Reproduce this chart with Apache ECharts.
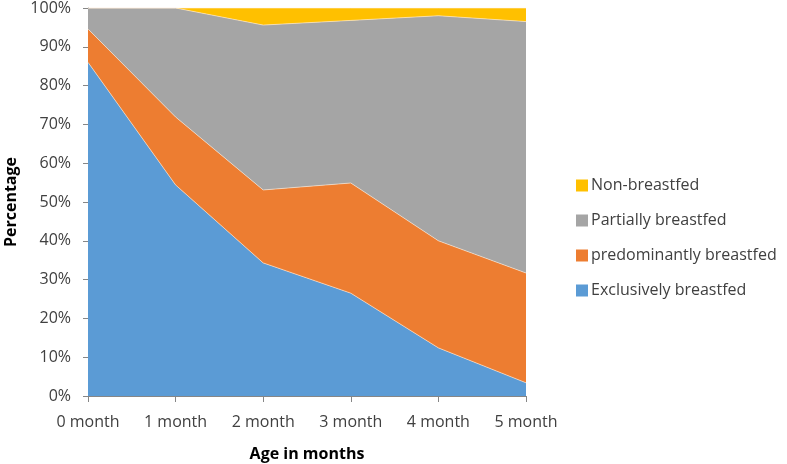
<!DOCTYPE html>
<html>
<head>
<meta charset="utf-8">
<script src="https://cdn.jsdelivr.net/npm/echarts@6/dist/echarts.min.js"></script>
<style>html,body{margin:0;padding:0;background:#fff}#c{width:787px;height:464px}</style>
</head>
<body>
<div id="c"></div>
<script>
const categories = ['0 month', '1 month', '2 month', '3 month', '4 month', '5 month'];
const exclusively = [86, 54.4, 34.3, 26.5, 12.4, 3.4];
const predominantly = [8.6, 17.5, 18.8, 28.4, 27.6, 28.3];
const partially = [5.4, 28.1, 42.5, 41.9, 58, 64.8];
const nonBreastfed = [0, 0, 4.4, 3.2, 2, 3.5];
const seriesNames = ['Exclusively breastfed', 'predominantly breastfed', 'Partially breastfed', 'Non-breastfed'];
const colors = ['#5B9BD5', '#ED7D31', '#A5A5A5', '#FFC000'];
const font = '"Open Sans", Lato, sans-serif';

const chart = echarts.init(document.getElementById('c'));
const dataSets = [exclusively, predominantly, partially, nonBreastfed];
chart.setOption({
  animation: false,
  grid: {left: 88, right: 261, top: 8, bottom: 68, outerBoundsMode: 'none'},
  legend: {
    orient: 'vertical', left: 571, top: 170,
    data: ['Non-breastfed', 'Partially breastfed', 'predominantly breastfed', 'Exclusively breastfed'],
    itemWidth: 12, itemHeight: 12, itemGap: 14,
    icon: 'rect',
    textStyle: {fontFamily: font, fontSize: 16, color: '#404040', lineHeight: 21, padding: [0,0,0,-2]}
  },
  xAxis: {
    type: 'category', data: categories, boundaryGap: false,
    name: 'Age in months', nameLocation: 'middle', nameGap: 50,
    nameTextStyle: {fontFamily: font, fontSize: 16, fontWeight: 'bold', color: '#000'},
    axisLine: {lineStyle: {color: '#868686'}},
    axisTick: {lineStyle: {color: '#868686'}, length: 6},
    axisLabel: {fontFamily: font, fontSize: 16, color: '#404040', margin: 18}
  },
  yAxis: {
    type: 'value', min: 0, max: 100, interval: 10,
    name: 'Percentage', nameLocation: 'middle', nameGap: 68,
    nameTextStyle: {fontFamily: font, fontSize: 16, fontWeight: 'bold', color: '#000'},
    axisLine: {show: true, lineStyle: {color: '#868686'}},
    axisTick: {show: true, lineStyle: {color: '#868686'}, length: 5},
    splitLine: {show: false},
    axisLabel: {fontFamily: font, fontSize: 16, color: '#404040', margin: 17, formatter: '{value}%'}
  },
  series: seriesNames.map((n, i) => ({
    name: n, type: 'line', stack: 'total', data: dataSets[i],
    symbol: 'none', color: colors[i],
    lineStyle: {width: 1, color: 'rgba(255,235,215,0.6)'},
    areaStyle: {color: colors[i], opacity: 1}
  }))
});
</script>
</body>
</html>
